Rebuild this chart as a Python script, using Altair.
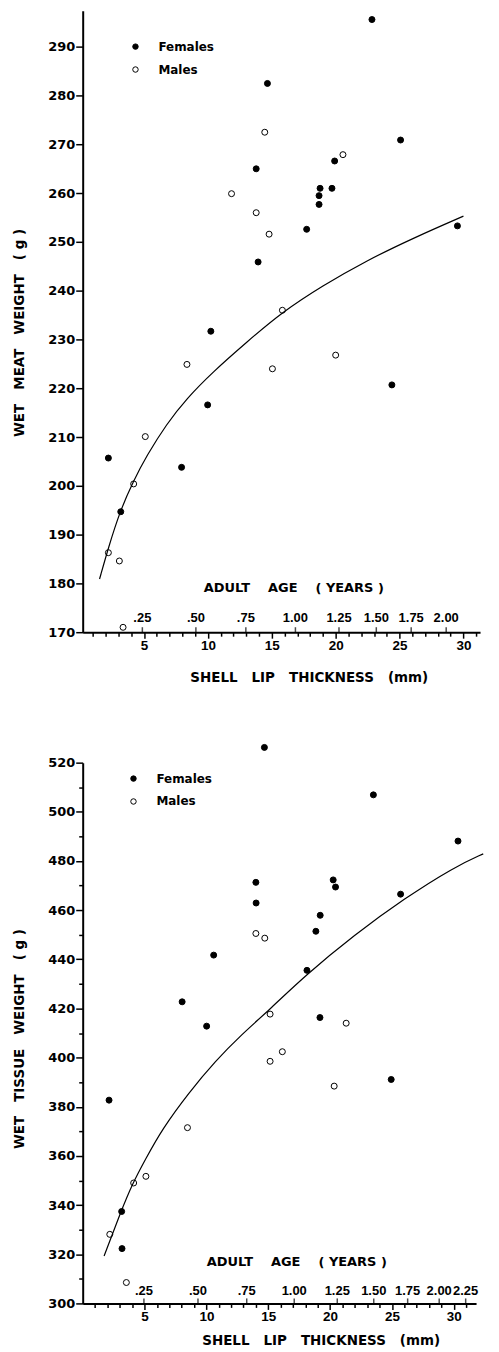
import altair as alt
import pandas as pd

SEXES = ["Females", "Males"]

# ---------- Top panel: wet meat weight (g) ----------
meat_f_x = [22.84, 14.66, 25.08, 19.92, 13.78, 18.78, 19.71, 18.70, 18.70, 17.73,
            29.53, 13.93, 10.23, 24.40, 9.98, 2.21, 7.94, 3.18]
meat_f_y = [295.6, 282.5, 270.9, 266.6, 265.0, 261.0, 261.0, 259.5, 257.7, 252.6,
            253.3, 245.9, 231.7, 220.7, 216.6, 205.7, 203.8, 194.7]
meat_m_x = [14.45, 20.57, 11.85, 13.78, 14.79, 15.83, 8.36, 15.05, 20.0, 5.10,
            4.19, 2.21, 3.07, 3.36]
meat_m_y = [272.5, 267.9, 259.9, 256.0, 251.6, 236.0, 224.9, 224.0, 226.8, 210.1,
            200.4, 186.3, 184.6, 171.0]
meat_curve_x = [1.52, 2.22, 3.13, 4.17, 5.21, 6.77, 8.33, 10.4, 13.0, 15.85,
                18.96, 22.34, 26.24, 30.0]
meat_curve_y = [180.9, 187.4, 194.9, 201.0, 206.2, 212.7, 217.9, 223.4, 229.4, 235.7,
                241.0, 246.1, 251.0, 255.3]
meat_age_labels = [".25", ".50", ".75", "1.00", "1.25", "1.50", "1.75", "2.00"]
meat_age_x = [4.87, 9.06, 12.97, 16.85, 20.26, 23.18, 25.91, 28.65]
meat_y_ticks = [170, 180, 190, 200, 210, 220, 230, 240, 250, 260, 270, 280, 290]

# ---------- Bottom panel: wet tissue weight (g) ----------
tis_f_x = [14.69, 23.5, 30.34, 14.0, 20.25, 20.44, 14.02, 25.7, 19.2, 18.85,
           10.59, 18.13, 8.04, 19.18, 10.02, 24.94, 2.13, 3.15, 3.18]
tis_f_y = [526.2, 506.9, 488.1, 471.3, 472.3, 469.4, 462.9, 466.5, 457.9, 451.4,
           441.7, 435.5, 422.7, 416.3, 412.8, 391.1, 382.7, 337.4, 322.3]
tis_m_x = [14.0, 14.72, 15.15, 21.3, 16.14, 15.15, 20.33, 8.47, 5.11, 4.12, 2.19, 3.53]
tis_m_y = [450.5, 448.6, 417.7, 414.0, 402.4, 398.5, 388.4, 371.5, 351.7, 349.0, 328.1, 308.5]
tis_curve_x = [1.73, 3.07, 4.01, 5.08, 6.42, 8.57, 10.72, 12.86, 15.0, 17.96,
               21.98, 26.0, 30.02, 32.38]
tis_curve_y = [319.3, 337.1, 348.6, 358.7, 370.9, 385.7, 398.6, 409.5, 419.0, 433.3,
               450.0, 464.7, 477.5, 482.9]
tis_age_labels = [".25", ".50", ".75", "1.00", "1.25", "1.50", "1.75", "2.00", "2.25"]
tis_age_x = [4.95, 9.32, 13.26, 17.1, 20.58, 23.53, 26.27, 28.82, 30.96]
tis_y_ticks = [300, 310, 320, 330, 340, 350, 360, 370, 380, 390, 400, 410, 420,
               430, 440, 450, 460, 470, 480, 490, 500, 510, 520]

mm_ticks = list(range(1, 32))

FONT = "DejaVu Sans"
FONT2 = "Liberation Sans"
SP = "\u00a0"

X_TITLE = f"SHELL{SP*3}LIP{SP*3}THICKNESS{SP*3}(mm)"
AGE_TITLE = f"ADULT{SP*4}AGE{SP*4}({SP}YEARS{SP})"


def panel(f_x, f_y, m_x, m_y, c_x, c_y, age_lab, age_x, ydom, yvals, ymajor,
          ytitle, ytitle_y, xdom, w, h, legend_xy, xlabpad, xtitle_x, xtitle_y,
          age_dy, agetitle_x, agetitle_dy):
    pts = pd.DataFrame({
        "x": f_x + m_x,
        "y": f_y + m_y,
        "sex": [SEXES[0]] * len(f_x) + [SEXES[1]] * len(m_x),
    })
    curve = pd.DataFrame({"x": c_x, "y": c_y})
    ages = pd.DataFrame({"x": age_x, "label": age_lab})
    agetitle = pd.DataFrame({"t": [AGE_TITLE]})

    xaxis = alt.Axis(
        values=mm_ticks, grid=False,
        labelExpr="datum.value % 5 === 0 ? datum.label : ''",
        title=X_TITLE,
        tickSize={"condition": {"test": "datum.value % 5 === 0", "value": 6}, "value": 4},
        labelPadding=xlabpad, labelBaseline="middle",
        labelFont=FONT2, labelFontSize=13.5,
        titleX=xtitle_x, titleY=xtitle_y, titleBaseline="middle", titleAlign="center",
    )
    yaxis = alt.Axis(
        values=yvals, grid=False,
        labelExpr=f"datum.value % {ymajor} === 0 ? datum.label : ''",
        title=ytitle,
        tickSize={"condition": {"test": f"datum.value % {ymajor} === 0", "value": 7}, "value": 4},
        labelPadding=1,
        labelFontSize=13,
        titleX=-63, titleY=ytitle_y, titleBaseline="middle", titleAlign="center",
    )
    X = alt.X("x:Q", scale=alt.Scale(domain=xdom, nice=False, zero=False), axis=xaxis)
    Y = alt.Y("y:Q", scale=alt.Scale(domain=ydom, nice=False, zero=False), axis=yaxis)

    points = alt.Chart(pts).mark_point(
        shape="circle", filled=True, stroke="black", strokeWidth=1, opacity=1, size=36
    ).encode(
        x=X, y=Y,
        fill=alt.Fill(
            "sex:N",
            scale=alt.Scale(domain=SEXES, range=["black", "white"]),
            legend=alt.Legend(
                orient="none", legendX=legend_xy[0], legendY=legend_xy[1], title=None,
                labelFont=FONT, labelFontSize=12, labelFontWeight="bold",
                labelColor="black", symbolType="circle", symbolSize=30,
                symbolStrokeColor="black", symbolStrokeWidth=1, rowPadding=11,
                labelOffset=17, padding=0,
            ),
        ),
    )
    line = alt.Chart(curve).mark_line(
        color="black", strokeWidth=1.2, interpolate="basis"
    ).encode(x=X, y=Y)
    age_ticks = alt.Chart(ages).mark_tick(
        orient="vertical", size=5, thickness=1.5, color="black", yOffset=-2.5
    ).encode(x=X, y=alt.value(h))
    age_text = alt.Chart(ages).mark_text(
        font=FONT2, fontSize=13, fontWeight="bold", color="black", baseline="middle"
    ).encode(x=X, y=alt.value(h - age_dy), text="label:N")
    age_title = alt.Chart(agetitle).mark_text(
        font=FONT, fontSize=13, fontWeight="bold", color="black", baseline="middle"
    ).encode(x=alt.value(agetitle_x), y=alt.value(h - agetitle_dy), text="t:N")

    return alt.layer(points, line, age_ticks, age_text, age_title).properties(
        width=w, height=h
    )


top = panel(meat_f_x, meat_f_y, meat_m_x, meat_m_y, meat_curve_x, meat_curve_y,
            meat_age_labels, meat_age_x, [170, 297.4], meat_y_ticks, 10,
            f"WET{SP*3}MEAT{SP*3}WEIGHT{SP*3}({SP}g{SP})", 323,
            [0.2, 31.3], 399, 624, (47, 30), 7, 227, 45.5, 14, 212, 44)

bottom = panel(tis_f_x, tis_f_y, tis_m_x, tis_m_y, tis_curve_x, tis_curve_y,
               tis_age_labels, tis_age_x, [300, 520], tis_y_ticks, 20,
               f"WET{SP*3}TISSUE{SP*3}WEIGHT{SP*3}({SP}g{SP})", 277,
               [0.0, 31.8], 395, 543, (45, 10), 7, 239, 37.5, 12, 215, 42)

chart = alt.vconcat(top, bottom, spacing=58).resolve_scale(
    fill="independent"
).resolve_legend(fill="independent").properties(
    padding={"left": 5, "top": 0, "right": 5, "bottom": 0},
    background="white",
).configure_view(strokeWidth=0).configure_axis(
    domainColor="black", domainWidth=2, tickColor="black", tickWidth=1.5,
    labelColor="black", titleColor="black", grid=False,
    labelFont=FONT, titleFont=FONT, labelFontWeight="bold", titleFontWeight="bold",
    titleFontSize=13.5,
)

chart.save("out.html", embed_options={"renderer": "svg", "actions": False})
